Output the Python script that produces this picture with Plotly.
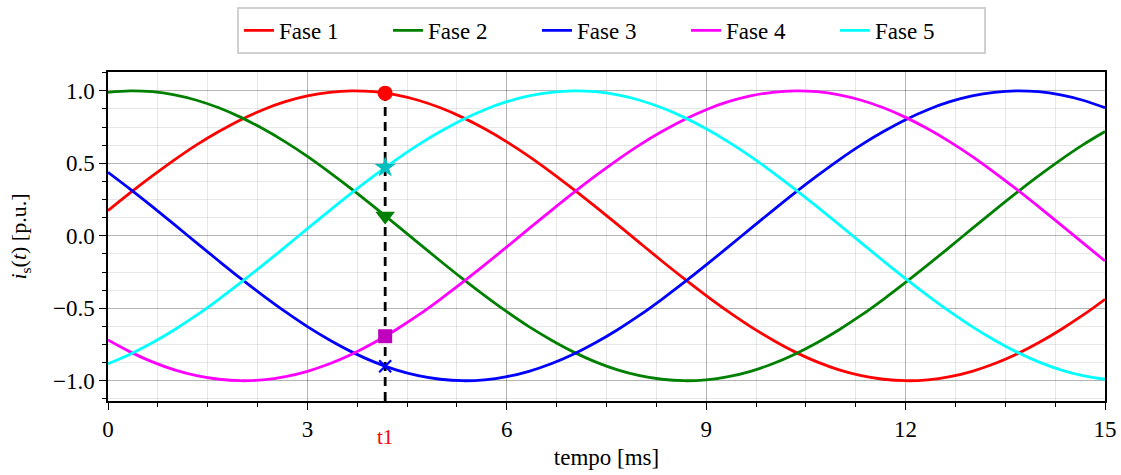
import plotly.graph_objects as go

# Sample times [ms]
tempo = [0.000, 0.333, 0.667, 1.000, 1.333, 1.667, 2.000, 2.333, 2.667, 3.000,
         3.333, 3.667, 4.000, 4.333, 4.667, 5.000, 5.333, 5.667, 6.000, 6.333,
         6.667, 7.000, 7.333, 7.667, 8.000, 8.333, 8.667, 9.000, 9.333, 9.667,
         10.000, 10.333, 10.667, 11.000, 11.333, 11.667, 12.000, 12.333, 12.667, 13.000,
         13.333, 13.667, 14.000, 14.333, 14.667, 15.000]

# Phase currents [p.u.]
fase1 = [0.174, 0.296, 0.413, 0.524, 0.627, 0.719, 0.801, 0.870, 0.925, 0.965,
         0.990, 1.000, 0.994, 0.972, 0.935, 0.883, 0.817, 0.738, 0.648, 0.548,
         0.438, 0.322, 0.201, 0.077, -0.049, -0.174, -0.296, -0.413, -0.524, -0.627,
         -0.719, -0.801, -0.870, -0.925, -0.965, -0.990, -1.000, -0.994, -0.972, -0.935,
         -0.883, -0.817, -0.738, -0.648, -0.548, -0.438]
fase2 = [0.990, 1.000, 0.994, 0.972, 0.935, 0.883, 0.817, 0.738, 0.648, 0.548,
         0.438, 0.322, 0.201, 0.077, -0.049, -0.174, -0.296, -0.413, -0.524, -0.627,
         -0.719, -0.801, -0.870, -0.925, -0.965, -0.990, -1.000, -0.994, -0.972, -0.935,
         -0.883, -0.817, -0.738, -0.648, -0.548, -0.438, -0.322, -0.201, -0.077, 0.049,
         0.174, 0.296, 0.413, 0.524, 0.627, 0.719]
fase3 = [0.438, 0.322, 0.201, 0.077, -0.049, -0.174, -0.296, -0.413, -0.524, -0.627,
         -0.719, -0.801, -0.870, -0.925, -0.965, -0.990, -1.000, -0.994, -0.972, -0.935,
         -0.883, -0.817, -0.738, -0.648, -0.548, -0.438, -0.322, -0.201, -0.077, 0.049,
         0.174, 0.296, 0.413, 0.524, 0.627, 0.719, 0.801, 0.870, 0.925, 0.965,
         0.990, 1.000, 0.994, 0.972, 0.935, 0.883]
fase4 = [-0.719, -0.801, -0.870, -0.925, -0.965, -0.990, -1.000, -0.994, -0.972, -0.935,
         -0.883, -0.817, -0.738, -0.648, -0.548, -0.438, -0.322, -0.201, -0.077, 0.049,
         0.174, 0.296, 0.413, 0.524, 0.627, 0.719, 0.801, 0.870, 0.925, 0.965,
         0.990, 1.000, 0.994, 0.972, 0.935, 0.883, 0.817, 0.738, 0.648, 0.548,
         0.438, 0.322, 0.201, 0.077, -0.049, -0.174]
fase5 = [-0.883, -0.817, -0.738, -0.648, -0.548, -0.438, -0.322, -0.201, -0.077, 0.049,
         0.174, 0.296, 0.413, 0.524, 0.627, 0.719, 0.801, 0.870, 0.925, 0.965,
         0.990, 1.000, 0.994, 0.972, 0.935, 0.883, 0.817, 0.738, 0.648, 0.548,
         0.438, 0.322, 0.201, 0.077, -0.049, -0.174, -0.296, -0.413, -0.524, -0.627,
         -0.719, -0.801, -0.870, -0.925, -0.965, -0.990]

nomes = ["Fase 1", "Fase 2", "Fase 3", "Fase 4", "Fase 5"]
cores = ["#ff0000", "#008000", "#0000ff", "#ff00ff", "#00ffff"]

# Instant t1 and the phase values sampled there
t1 = 4.17
valores_t1 = [0.984, 0.137, -0.900, -0.693, 0.472]
simbolos_t1 = ["circle", "triangle-down", "x-thin", "square", "star"]
cores_t1 = ["#ff0000", "#008000", "#0000ff", "#bf00bf", "#00bfbf"]
tamanhos_t1 = [15, 17, 12, 14, 16]

x_ticks = [0, 3, 6, 9, 12, 15]
y_ticks = [-1.0, -0.5, 0.0, 0.5, 1.0]
y_min, y_max = -1.14, 1.13

FONTE = "Liberation Serif"

fig = go.Figure()
for nome, cor, serie in zip(nomes, cores, [fase1, fase2, fase3, fase4, fase5]):
    fig.add_trace(go.Scatter(
        x=tempo, y=serie, mode="lines", name=nome,
        line=dict(color=cor, width=2.8, shape="spline", smoothing=1.0),
    ))

# Vertical marker line at t1
fig.add_trace(go.Scatter(
    x=[t1, t1], y=[y_min, valores_t1[0]], mode="lines", showlegend=False,
    line=dict(color="black", width=2.8, dash="9px,6px"), hoverinfo="skip",
))

for v, s, c, sz in zip(valores_t1, simbolos_t1, cores_t1, tamanhos_t1):
    marcador = dict(symbol=s, color=c, size=sz)
    if s == "x-thin":
        marcador["line"] = dict(color=c, width=2.2)
    fig.add_trace(go.Scatter(
        x=[t1], y=[v], mode="markers", showlegend=False, marker=marcador,
    ))

fig.add_annotation(
    x=t1, xref="x", y=0, yref="paper", yshift=-36, text="t1",
    showarrow=False, font=dict(color="#ff0000", size=21, family=FONTE),
    yanchor="middle",
)

eixo_comum = dict(
    showline=True, linecolor="black", linewidth=1.5, mirror=True,
    ticks="outside", ticklen=7, tickwidth=1.3, tickcolor="black",
    showgrid=True, gridcolor="rgba(0,0,0,0.22)", gridwidth=1,
    zeroline=False, automargin=False,
    tickfont=dict(family=FONTE, size=23, color="black"),
)

fig.update_layout(
    width=1121, height=475,
    paper_bgcolor="white", plot_bgcolor="white",
    margin=dict(l=108, r=16, t=72, b=74, autoexpand=False),
    font=dict(family=FONTE, color="black"),
    xaxis=dict(
        range=[0, 15], tickvals=x_ticks, ticktext=[str(v) for v in x_ticks],
        title=dict(text="tempo [ms]", font=dict(size=23, family=FONTE), standoff=8),
        minor=dict(dtick=0.75, ticks="outside", ticklen=4, tickcolor="black",
                   showgrid=True, gridcolor="rgba(0,0,0,0.09)"),
        **eixo_comum,
    ),
    yaxis=dict(
        range=[y_min, y_max], tickvals=y_ticks, tickformat=".1f",
        title=dict(text="<i>i</i><sub>s</sub>(<i>t</i>) [p.u.]",
                   font=dict(size=22, family=FONTE), standoff=20),
        minor=dict(dtick=0.125, tick0=0, ticks="outside", ticklen=4, tickcolor="black",
                   showgrid=True, gridcolor="rgba(0,0,0,0.09)"),
        **eixo_comum,
    ),
    legend=dict(
        orientation="h", x=0.505, xanchor="center", y=1.198, yanchor="top",
        bordercolor="#d0d0d0", borderwidth=2, bgcolor="white",
        font=dict(size=23, family=FONTE),
        entrywidth=104, entrywidthmode="pixels",
    ),
    showlegend=True,
)

fig.write_html("out.html")
